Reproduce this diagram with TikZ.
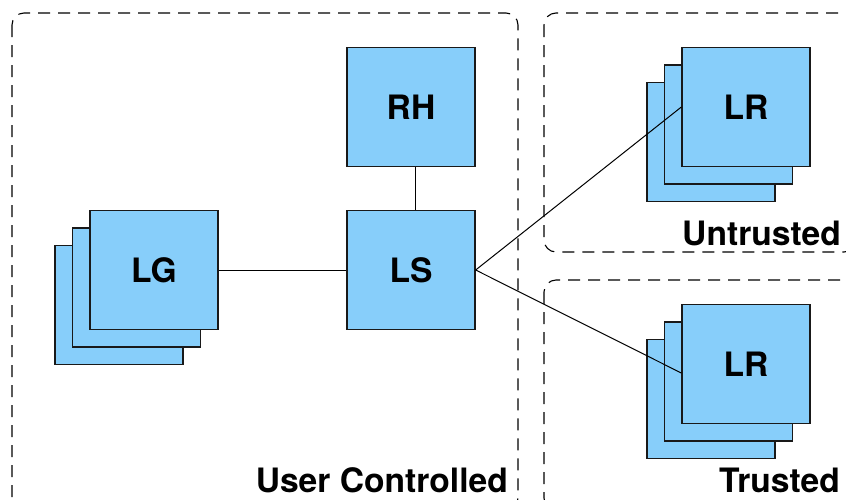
\documentclass[tikz,border=0pt]{standalone}
\usepackage{fontspec}
\setmainfont{TeX Gyre Heros}
\usepackage{tikz}
\definecolor{boxblue}{RGB}{135,206,250}
\def\lbl#1{\textbf{#1}}

\begin{document}
\begin{tikzpicture}[x=1pt,y=-1pt,
    box/.style={draw=black!90, fill=boxblue, line width=1.3pt, minimum width=128pt, minimum height=119pt, inner sep=0pt},
    zone/.style={draw=black, line width=1.1pt, dash pattern=on 12pt off 8pt, rounded corners=12pt},
    wire/.style={draw, line width=1pt},
    font={\fontsize{33.6}{40}\selectfont}]
    \clip (0,0) rectangle (846,499);

    % trust zones
    \draw[zone] (12,13) rectangle (518,510);
    \draw[zone] (544,13) rectangle (856,252);
    \draw[zone] (544,280) rectangle (856,510);
    \node[anchor=base east, inner sep=0pt] (uc) at (508,492) {\lbl{User Controlled}};
    \node[anchor=base east, inner sep=0pt] (ut) at (841,245) {\lbl{Untrusted}};
    \node[anchor=base east, inner sep=0pt] (tr) at (840,492) {\lbl{Trusted}};

    % stacked nodes: copies behind the front box
    \foreach \d in {35,17.5} {
      \node[box] (lg\d) at (154-\d,270+\d) {};
      \node[box] (lru\d) at (746-\d,107+\d) {};
      \node[box] (lrt\d) at (746-\d,364+\d) {};
    }
    \node[box] (LG) at (154,270) {\lbl{LG}};
    \node[box] (LRu) at (746,107) {\lbl{LR}};
    \node[box] (LRt) at (746,364) {\lbl{LR}};

    \node[box] (RH) at (411,107) {\lbl{RH}};
    \node[box] (LS) at (411,270) {\lbl{LS}};

    % links
    \draw[wire] ([xshift=4.5pt]RH.south) -- ([xshift=4.5pt]LS.north);
    \draw[wire] (LG) -- (LS);
    \draw[wire] (LS.east) -- (LRu.west);
    \draw[wire] (LS.east) -- ([yshift=-9pt]LRt.west);
  \end{tikzpicture}
\end{document}
